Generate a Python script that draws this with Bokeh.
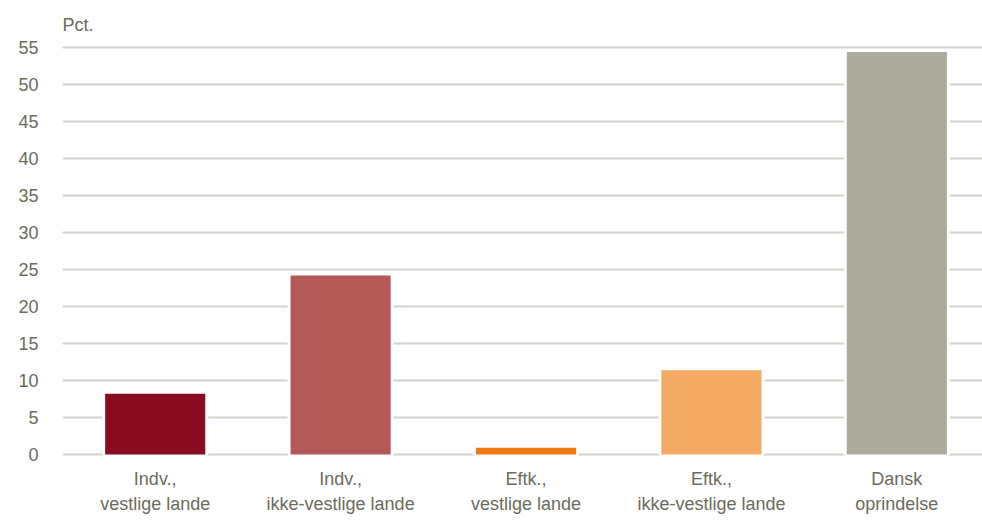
from bokeh.plotting import figure
from bokeh.models import Range1d, FixedTicker, ColumnDataSource
from bokeh.embed import file_html
from bokeh.resources import INLINE

categories = ["Indv.,\nvestlige lande", "Indv.,\nikke-vestlige lande", "Eftk.,\nvestlige lande",
              "Eftk.,\nikke-vestlige lande", "Dansk\noprindelse"]
values = [8.2, 24.2, 0.9, 11.4, 54.4]
colors = ["#8a0c22", "#b35a58", "#f07a10", "#f5aa63", "#adab9c"]
y_ticks = list(range(0, 56, 5))

TEXT = "#6b6b5c"
GRID = "#d2d2ca"
FONT = "Liberation Sans"

pos = list(range(len(categories)))
src = ColumnDataSource(dict(x=pos, top=values, color=colors))

p = figure(width=982, height=521, output_backend="svg", toolbar_location=None,
           x_range=Range1d(-0.5, 4.462), y_range=Range1d(-0.27, 55.27),
           min_border_left=62, min_border_right=0, min_border_bottom=65, min_border_top=45)
p.outline_line_color = None
p.background_fill_color = "white"

p.title.text = "Pct."
p.title.align = "left"
p.title.text_font = FONT
p.title.text_font_size = "18px"
p.title.text_font_style = "normal"
p.title.text_color = TEXT
p.title.offset = 0
p.title.standoff = 22

p.vbar(x="x", top="top", bottom=0, width=0.54, source=src,
       fill_color="white", line_color="white", line_width=6)
p.vbar(x="x", top="top", bottom=0, width=0.54, source=src,
       fill_color="color", line_color=None)

p.xgrid.grid_line_color = None
p.ygrid.grid_line_color = GRID
p.ygrid.grid_line_width = 2
p.ygrid.ticker = FixedTicker(ticks=y_ticks)
p.ygrid.level = "underlay"

p.yaxis.ticker = FixedTicker(ticks=y_ticks)
p.xaxis.ticker = FixedTicker(ticks=pos)
p.xaxis.major_label_overrides = {i: c for i, c in zip(pos, categories)}
for ax in (p.xaxis, p.yaxis):
    ax.axis_line_color = None
    ax.major_tick_line_color = None
    ax.minor_tick_line_color = None
    ax.major_label_text_font = FONT
    ax.major_label_text_font_size = "18px"
    ax.major_label_text_color = TEXT
p.xaxis.major_label_text_line_height = 1.28
p.yaxis.major_label_standoff = 18
p.xaxis.major_label_standoff = 6

open("out.html", "w").write(file_html(p, INLINE))
